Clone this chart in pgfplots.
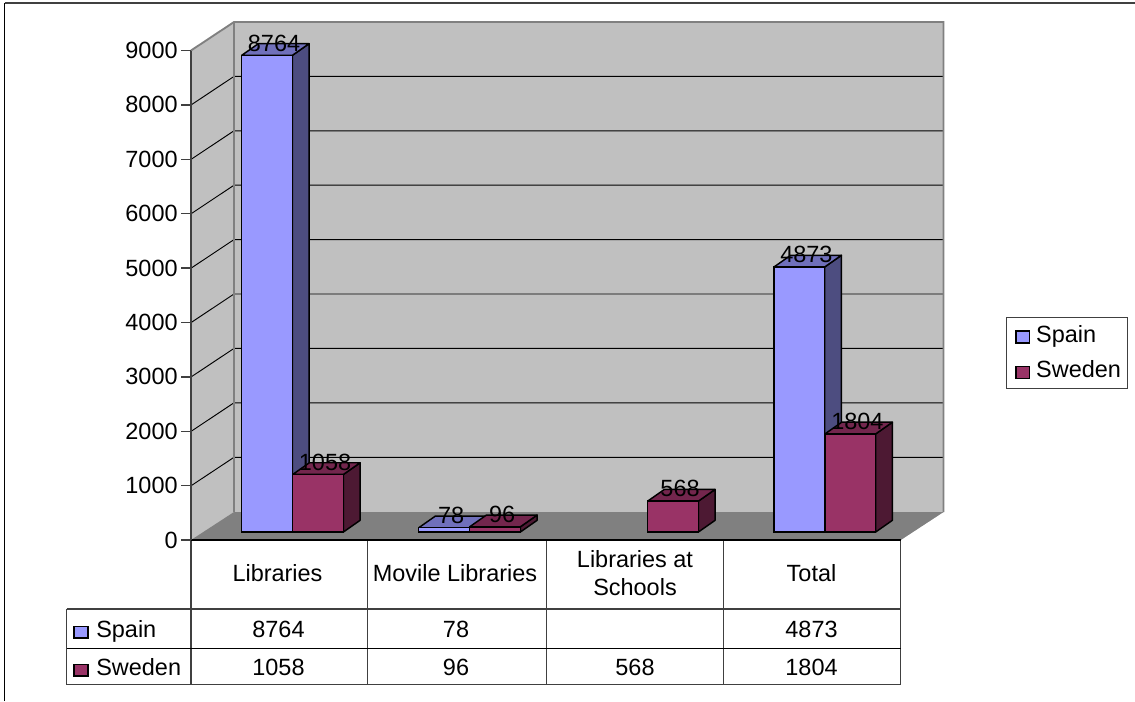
\documentclass[border=0pt]{standalone}
\usepackage{pgfplots}
\usepackage{fontspec}
\setmainfont{Liberation Sans}
\pgfplotsset{compat=1.18}
\usepackage{pgfplotstable}

\definecolor{spainFront}{HTML}{9999FF}
\definecolor{spainTop}{HTML}{7070BB}
\definecolor{spainSide}{HTML}{4D4D80}
\definecolor{swedenFront}{HTML}{993366}
\definecolor{swedenTop}{HTML}{73264D}
\definecolor{swedenSide}{HTML}{4D1933}
\definecolor{wallgray}{HTML}{C0C0C0}
\definecolor{floorgray}{HTML}{808080}
\definecolor{rulegray}{HTML}{404040}

% bar centres (x) and values of each series
\pgfplotstableread{
x v
267.05 8764
444.05 78
799.35 4873
}\spaindata
\pgfplotstableread{
x v
318.05 1058
495.05 96
673.05 568
850.35 1804
}\swedendata

\newcommand{\chartfont}{\fontsize{17.6pt}{21pt}\selectfont}

% side and top faces of one bar: centre, value, top colour, side colour
\newcommand{\barfaces}[4]{%
  \pgfmathsetmacro{\xl}{#1-25.35}%
  \pgfmathsetmacro{\xr}{#1+25.35}%
  \pgfmathsetmacro{\xlb}{\xl+16.7}%
  \pgfmathsetmacro{\xrb}{\xr+16.7}%
  \pgfmathsetmacro{\vb}{#2+215}%
  \edef\faceplots{%
    \noexpand\addplot[forget plot, yshift=6pt, fill=#4, draw=black, line width=1.1pt, line join=round]
      coordinates {(\xr,0) (\xrb,215) (\xrb,\vb) (\xr,#2)} --cycle;
    \noexpand\addplot[forget plot, yshift=6pt, fill=#3, draw=black, line width=1.1pt, line join=round]
      coordinates {(\xl,#2) (\xr,#2) (\xrb,\vb) (\xlb,\vb)} --cycle;
  }%
  \faceplots
}

% one horizontal grid level across the side wall and back wall, in image rows
\newcommand{\gridlevel}[2]{%
  \draw[black, line width=0.7pt] (191,#1) -- (234,#2) -- (943.5,#2);
}

\begin{document}
\begin{tikzpicture}[x=1pt,y=1pt]
\path[use as bounding box] (0,0) rectangle (851.25pt,525.75pt);

% backdrop layer, addressed in image pixels
\begin{axis}[
  at={(0pt,0pt)}, anchor=south west,
  width=851.25pt, height=525.75pt, scale only axis,
  xmin=0, xmax=1135, ymin=0, ymax=701, y dir=reverse,
  hide axis, clip=false,
]
  % chart frame
  \draw[black, line width=1pt] (4.5,701) -- (4.5,2.5);
  \draw[rulegray, line width=1.5pt] (4.5,2.5) -- (1135,2.5);
  % walls and floor
  \fill[wallgray] (191,50.5) -- (234,22) -- (943.5,22) -- (943.5,512) -- (900.7,540) -- (191,540) -- cycle;
  \fill[floorgray] (191,540) -- (234,512) -- (943.5,512) -- (900.7,540) -- cycle;
  \gridlevel{105}{76.4}
  \gridlevel{159.4}{130.8}
  \gridlevel{213.8}{185.2}
  \gridlevel{268.2}{239.6}
  \gridlevel{322.6}{294}
  \gridlevel{377}{348.4}
  \gridlevel{431.4}{402.8}
  \gridlevel{485.8}{457.3}
  \draw[floorgray, line width=1.4pt] (191,50.5) -- (234,22) -- (943.5,22) -- (943.5,512);
  \draw[floorgray, line width=1.4pt] (234,22) -- (234,512);
  % data table rules
  \draw[rulegray, line width=0.9pt] (367.7,540) -- (367.7,684.5);
  \draw[rulegray, line width=0.9pt] (546.7,540) -- (546.7,684.5);
  \draw[rulegray, line width=0.9pt] (723.5,540) -- (723.5,684.5);
  \draw[rulegray, line width=0.9pt] (900.7,540) -- (900.7,684.5);
  \draw[rulegray, line width=0.9pt] (191,540) -- (191,684.5);
  \draw[rulegray, line width=0.9pt] (66.5,609) -- (900.7,609);
  \draw[black, line width=0.7pt] (66.5,648.5) -- (900.7,648.5);
  \draw[rulegray, line width=0.9pt] (66.5,684.5) -- (900.7,684.5);
  \draw[rulegray, line width=0.9pt] (66.5,609) -- (66.5,684.5);
  % legend keys of the data table
  \filldraw[fill=spainFront, draw=black, line width=0.9pt] (74,626.5) rectangle (88,638);
  \filldraw[fill=swedenFront, draw=black, line width=0.9pt] (74,664.5) rectangle (88,676);
  \node[anchor=base west, inner sep=0pt, font=\chartfont] at (96,637.5) {Spain};
  \node[anchor=base west, inner sep=0pt, font=\chartfont] at (96,675.5) {Sweden};
  % table body
  \node[anchor=base, inner sep=0pt, font=\chartfont] at (278.5,637) {8764};
  \node[anchor=base, inner sep=0pt, font=\chartfont] at (456,637) {78};
  \node[anchor=base, inner sep=0pt, font=\chartfont] at (811.5,637) {4873};
  \node[anchor=base, inner sep=0pt, font=\chartfont] at (278.5,675) {1058};
  \node[anchor=base, inner sep=0pt, font=\chartfont] at (456,675) {96};
  \node[anchor=base, inner sep=0pt, font=\chartfont] at (635,675) {568};
  \node[anchor=base, inner sep=0pt, font=\chartfont] at (811.5,675) {1804};
\end{axis}

% value axis on the front plane
\begin{axis}[
  at={(143.25pt,120.75pt)}, anchor=south west,
  width=532.275pt, height=367.125pt, scale only axis,
  xmin=191, xmax=900.7, ymin=0, ymax=9000,
  clip=false,
  axis y line=left, axis x line=bottom,
  axis line style={rulegray, line width=1pt, -},
  x axis line style={black},
  ytick={0,1000,...,9000},
  tick style={rulegray, line width=1pt},
  major tick length=7.5pt,
  tick align=outside,
  xtick={277.5,455,635,811.5},
  xticklabels={Libraries,Movile Libraries,{Libraries at\\Schools},Total},
  x tick style={draw=none},
  xticklabel style={align=center, font=\chartfont, anchor=center, yshift=-17.65pt},
  yticklabel style={font=\chartfont, /pgf/number format/1000 sep={}, /pgf/number format/assume math mode=true, xshift=1pt},
  /pgf/number format/1000 sep={},
  /pgf/number format/assume math mode=true,
  every node near coord/.append style={font=\chartfont, anchor=center, xshift=5.25pt, yshift=9.25pt, inner sep=0pt},
  legend style={
    at={(1.148,0.4556)}, anchor=north west,
    draw=rulegray, line width=0.7pt, font=\chartfont,
    inner xsep=5pt, inner ysep=5.1pt, row sep=10pt,
    nodes={inner sep=0pt, text height=13.5pt, text depth=3pt},
    /tikz/every odd column/.style={column sep=4.5pt},
  },
  legend cell align=left,
  legend image code/.code={
    \path (0pt,0pt);
    \draw[#1, yshift=-11.25pt, line width=0.9pt] (1.75pt,-0.5pt) rectangle (12pt,8.5pt);
  },
]
  % Spain: rear faces first, so the Sweden bars overlap them
  \barfaces{267.05}{8764}{spainTop}{spainSide}
  \barfaces{444.05}{78}{spainTop}{spainSide}
  \barfaces{799.35}{4873}{spainTop}{spainSide}
  \addplot[ybar, bar width=38.02pt, bar shift=0pt, yshift=6pt, fill=spainFront, draw=black, line width=1.1pt,
    nodes near coords] table[x=x,y=v] {\spaindata};
  \addlegendentry{Spain}
  % Sweden
  \barfaces{318.05}{1058}{swedenTop}{swedenSide}
  \barfaces{495.05}{96}{swedenTop}{swedenSide}
  \barfaces{673.05}{568}{swedenTop}{swedenSide}
  \barfaces{850.35}{1804}{swedenTop}{swedenSide}
  \addplot[ybar, bar width=38.02pt, bar shift=0pt, yshift=6pt, fill=swedenFront, draw=black, line width=1.1pt,
    nodes near coords] table[x=x,y=v] {\swedendata};
  \addlegendentry{Sweden}
\end{axis}
\end{tikzpicture}
\end{document}
